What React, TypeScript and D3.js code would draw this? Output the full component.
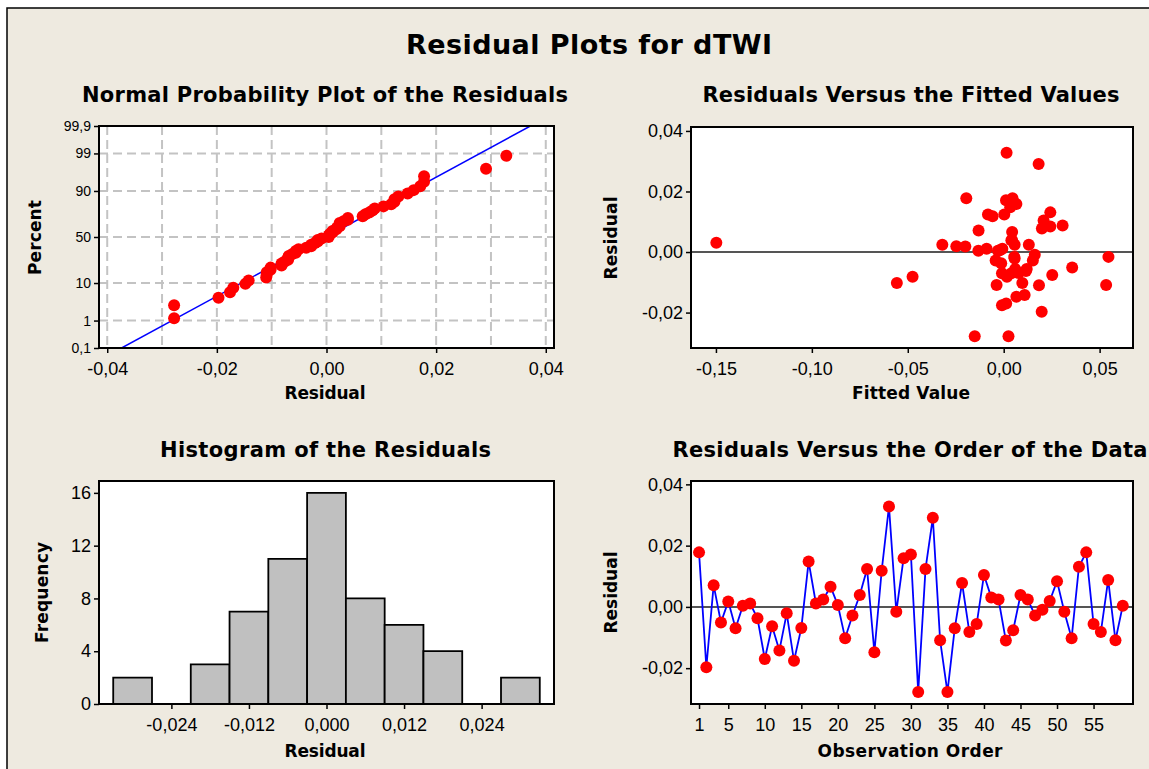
import React, { useEffect, useRef } from "react";
import * as d3 from "d3";

const residuals = [
  0.0178, -0.0197, 0.0071, -0.0051, 0.0018, -0.007, 0.0004, 0.0011, -0.0037, -0.017,
  -0.0063, -0.0142, -0.0021, -0.0176, -0.0069, 0.0148, 0.0011, 0.0024, 0.0066, 0.0006,
  -0.0102, -0.0028, 0.0039, 0.0124, -0.0148, 0.0118, 0.0328, -0.0016, 0.0159, 0.0171,
  -0.0278, 0.0124, 0.0291, -0.0109, -0.0278, -0.007, 0.0078, -0.0082, -0.0056, 0.0104,
  0.0031, 0.0024, -0.011, -0.0076, 0.0039, 0.0024, -0.0028, -0.0009, 0.0019, 0.0084,
  -0.0016, -0.0102, 0.0131, 0.0178, -0.0056, -0.0082, 0.0088, -0.0109, 0.0004,
];

// fitted values, same order
const fitted = [
  -0.0195, 0.0198, -0.0131, 0.0357, -0.02, -0.0009, -0.0132, -0.0089, -0.0013, 0.0013,
  0.0116, 0.0109, 0.0057, -0.0009, 0.0078, 0.0034, -0.0007, -0.032, 0.0044, -0.002,
  -0.0557, -0.0042, 0.0044, -0.0082, 0.0066, -0.0058, 0.0015, 0.0546, 0.0066, 0.0012,
  -0.0151, 0.0003, 0.0182, -0.0037, 0.0025, 0.004, 0.0199, -0.0475, 0.012, 0.0208,
  -0.1498, 0.0131, 0.0184, 0.0253, 0.004, 0.0057, 0.0152, 0.0162, -0.0247, 0.0243,
  0.0055, 0.0097, 0.0243, 0.0046, 0.006, 0.0017, 0.0307, 0.0534, -0.003,
];

// histogram
const binCenters = [-0.03, -0.024, -0.018, -0.012, -0.006, 0, 0.006, 0.012, 0.018, 0.024, 0.03];
const binCounts = [2, 0, 3, 7, 11, 16, 8, 6, 4, 0, 2];
const binWidth = 0.006;

// tick values
const percentTicks = [0.1, 1, 10, 50, 90, 99, 99.9];
const percentGrid = [1, 10, 50, 90, 99];
const normalXTicks = [-0.04, -0.02, 0, 0.02, 0.04];
const normalXGrid = [-0.04, -0.03, -0.02, -0.01, 0, 0.01, 0.02, 0.03, 0.04];
const fittedXTicks = [-0.15, -0.1, -0.05, 0, 0.05];
const residYTicks = [-0.02, 0, 0.02, 0.04];
const histXTicks = [-0.024, -0.012, 0, 0.012, 0.024];
const histYTicks = [0, 4, 8, 12, 16];
const orderXTicks = [1, 5, 10, 15, 20, 25, 30, 35, 40, 45, 50, 55];

const W = 1149;
const H = 769;
const BG = "#EEEAE0";
const FONT = "'Liberation Sans', Arial, Helvetica, sans-serif";
const TITLE_FONT = "'DejaVu Sans', Verdana, sans-serif";

const locale = d3.formatLocale({
  decimal: ",",
  thousands: ".",
  grouping: [3],
  currency: ["", ""],
  minus: "-",
});

// inverse of the standard normal cdf (Acklam)
function probit(p: number): number {
  const a = [-39.69683028665376, 220.9460984245205, -275.9285104469687, 138.357751867269, -30.66479806614716, 2.506628277459239];
  const b = [-54.47609879822406, 161.5858368580409, -155.6989798598866, 66.80131188771972, -13.28068155288572];
  const c = [-0.007784894002430293, -0.3223964580411365, -2.400758277161838, -2.549732539343734, 4.374664141464968, 2.938163982698783];
  const d = [0.007784695709041462, 0.3224671290700398, 2.445134137142996, 3.754408661907416];
  const pl = 0.02425;
  if (p < pl) {
    const q = Math.sqrt(-2 * Math.log(p));
    return (((((c[0] * q + c[1]) * q + c[2]) * q + c[3]) * q + c[4]) * q + c[5]) / ((((d[0] * q + d[1]) * q + d[2]) * q + d[3]) * q + 1);
  }
  if (p <= 1 - pl) {
    const q = p - 0.5;
    const r = q * q;
    return ((((((a[0] * r + a[1]) * r + a[2]) * r + a[3]) * r + a[4]) * r + a[5]) * q) / (((((b[0] * r + b[1]) * r + b[2]) * r + b[3]) * r + b[4]) * r + 1);
  }
  const q = Math.sqrt(-2 * Math.log(1 - p));
  return -(((((c[0] * q + c[1]) * q + c[2]) * q + c[3]) * q + c[4]) * q + c[5]) / ((((d[0] * q + d[1]) * q + d[2]) * q + d[3]) * q + 1);
}

type Box = { x0: number; x1: number; y0: number; y1: number };

const App = () => {
  const svgRef = useRef<SVGSVGElement>(null);

  useEffect(() => {
    const svg = d3.select(svgRef.current);
    svg.selectAll("*").remove();

    // page background + frame
    svg.append("rect").attr("x", 0).attr("y", 0).attr("width", W).attr("height", H).attr("fill", "#fff");
    svg
      .append("rect")
      .attr("x", 7)
      .attr("y", 8)
      .attr("width", W + 20)
      .attr("height", H + 20)
      .attr("fill", BG)
      .attr("stroke", "#000")
      .attr("stroke-width", 1.5);

    const text = (
      s: string,
      x: number,
      y: number,
      size: number,
      len: number,
      opts: { anchor?: string; rotate?: boolean } = {}
    ) => {
      const t = svg
        .append("text")
        .attr("x", opts.rotate ? 0 : x)
        .attr("y", opts.rotate ? 0 : y)
        .attr("text-anchor", opts.anchor || "start")
        .attr("font-family", TITLE_FONT)
        .attr("font-size", size)
        .attr("font-weight", "bold")
        .attr("fill", "#000")
        .attr("textLength", len)
        .attr("lengthAdjust", "spacing")
        .text(s);
      if (opts.rotate) t.attr("transform", `translate(${x},${y}) rotate(-90)`);
      return t;
    };

    // titles
    text("Residual Plots for dTWI", 406, 53.5, 27, 366);
    text("Normal Probability Plot of the Residuals", 82, 101.5, 21, 486);
    text("Residuals Versus the Fitted Values", 702.5, 101.5, 21, 417);
    text("Histogram of the Residuals", 160, 457, 21, 331);
    text("Residuals Versus the Order of the Data", 672.5, 457, 21, 475);

    // axis titles
    text("Residual", 325, 399, 17, 81, { anchor: "middle" });
    text("Fitted Value", 911, 399, 17, 118, { anchor: "middle" });
    text("Residual", 325, 756.5, 17, 81, { anchor: "middle" });
    text("Observation Order", 910, 756.5, 17, 185, { anchor: "middle" });
    text("Percent", 40.5, 237.5, 17, 75, { anchor: "middle", rotate: true });
    text("Residual", 617, 238, 17, 83, { anchor: "middle", rotate: true });
    text("Frequency", 48, 592.5, 17, 101, { anchor: "middle", rotate: true });
    text("Residual", 617, 592.5, 17, 82, { anchor: "middle", rotate: true });

    const plotBg = (b: Box) =>
      svg.append("rect").attr("x", b.x0).attr("y", b.y0).attr("width", b.x1 - b.x0).attr("height", b.y1 - b.y0).attr("fill", "#fff");
    const plotFrame = (b: Box) =>
      svg
        .append("rect")
        .attr("x", b.x0)
        .attr("y", b.y0)
        .attr("width", b.x1 - b.x0)
        .attr("height", b.y1 - b.y0)
        .attr("fill", "none")
        .attr("stroke", "#000")
        .attr("stroke-width", 2);

    const styleAxis = (g: any, size: number) => {
      g.attr("font-family", FONT).attr("font-size", size);
      g.select(".domain").remove();
      g.selectAll(".tick line").attr("stroke", "#000").attr("stroke-width", 1.5);
      g.selectAll(".tick text").attr("fill", "#000");
    };

    const clip = (id: string, b: Box) =>
      svg
        .append("clipPath")
        .attr("id", id)
        .append("rect")
        .attr("x", b.x0)
        .attr("y", b.y0)
        .attr("width", b.x1 - b.x0)
        .attr("height", b.y1 - b.y0);

    const dot = (g: any, pts: [number, number][]) =>
      g
        .selectAll("circle.pt")
        .data(pts)
        .enter()
        .append("circle")
        .attr("class", "pt")
        .attr("cx", (d: [number, number]) => d[0])
        .attr("cy", (d: [number, number]) => d[1])
        .attr("r", 6)
        .attr("fill", "#FF0000");

    // ---------- normal probability plot ----------
    const b1: Box = { x0: 99, x1: 554, y0: 126, y1: 348 };
    const x1 = d3.scaleLinear().domain([-0.0415, 0.0415]).range([b1.x0, b1.x1]);
    const zMax = probit(0.999);
    const y1 = d3.scaleLinear().domain([-zMax, zMax]).range([b1.y1, b1.y0]);
    plotBg(b1);
    clip("clip1", b1);
    const grid1 = svg.append("g").attr("stroke", "#C3C3C3").attr("stroke-width", 2).attr("stroke-dasharray", "9,5");
    normalXGrid.forEach((v) =>
      grid1.append("line").attr("x1", x1(v)).attr("x2", x1(v)).attr("y1", b1.y0).attr("y2", b1.y1)
    );
    percentGrid.forEach((p) =>
      grid1
        .append("line")
        .attr("x1", b1.x0)
        .attr("x2", b1.x1)
        .attr("y1", y1(probit(p / 100)))
        .attr("y2", y1(probit(p / 100)))
    );
    const g1 = svg.append("g").attr("clip-path", "url(#clip1)");
    const mean = d3.mean(residuals) as number;
    const sd = d3.deviation(residuals) as number;
    g1.append("line")
      .attr("x1", x1(mean - sd * zMax))
      .attr("y1", y1(-zMax))
      .attr("x2", x1(mean + sd * zMax))
      .attr("y2", y1(zMax))
      .attr("stroke", "#0000FF")
      .attr("stroke-width", 1.5);
    const sorted = residuals.slice().sort(d3.ascending);
    const n = sorted.length;
    dot(
      svg.append("g"),
      sorted.map((v, i) => [x1(v), y1(probit((i + 1 - 0.3) / (n + 0.4)))] as [number, number])
    );
    plotFrame(b1);
    const ax1 = svg
      .append("g")
      .attr("transform", `translate(0,${b1.y1})`)
      .call(d3.axisBottom(x1).tickValues(normalXTicks).tickSize(5).tickSizeOuter(0).tickPadding(9).tickFormat(locale.format(".2f") as any));
    styleAxis(ax1, 18);
    const fmtPct = locale.format("~g");
    const ay1 = svg
      .append("g")
      .attr("transform", `translate(${b1.x0},0)`)
      .call(
        d3
          .axisLeft(y1)
          .tickValues(percentTicks.map((p) => probit(p / 100)))
          .tickSize(5)
          .tickSizeOuter(0)
          .tickPadding(3)
          .tickFormat((_d: any, i: number) => fmtPct(percentTicks[i]))
      );
    styleAxis(ay1, 14);

    // ---------- residuals vs fitted ----------
    const b2: Box = { x0: 691, x1: 1133, y0: 127, y1: 348 };
    const x2 = d3.scaleLinear().domain([-0.163, 0.0674]).range([b2.x0, b2.x1]);
    const y2 = d3.scaleLinear().domain([-0.0317, 0.0413]).range([b2.y1, b2.y0]);
    plotBg(b2);
    svg
      .append("line")
      .attr("x1", b2.x0)
      .attr("x2", b2.x1)
      .attr("y1", y2(0))
      .attr("y2", y2(0))
      .attr("stroke", "#555")
      .attr("stroke-width", 2);
    dot(svg.append("g"), fitted.map((f, i) => [x2(f), y2(residuals[i])] as [number, number]));
    plotFrame(b2);
    const ax2 = svg
      .append("g")
      .attr("transform", `translate(0,${b2.y1})`)
      .call(d3.axisBottom(x2).tickValues(fittedXTicks).tickSize(5).tickSizeOuter(0).tickPadding(9).tickFormat(locale.format(".2f") as any));
    styleAxis(ax2, 18);
    const ay2 = svg
      .append("g")
      .attr("transform", `translate(${b2.x0},0)`)
      .call(d3.axisLeft(y2).tickValues(residYTicks).tickSize(5).tickSizeOuter(0).tickPadding(3).tickFormat(locale.format(".2f") as any));
    styleAxis(ay2, 18);

    // ---------- histogram ----------
    const b3: Box = { x0: 99, x1: 554, y0: 481, y1: 704 };
    const x3 = d3.scaleLinear().domain([-0.0352, 0.0352]).range([b3.x0, b3.x1]);
    const y3 = d3.scaleLinear().domain([0, 16.9]).range([b3.y1, b3.y0]);
    plotBg(b3);
    svg
      .append("g")
      .selectAll("path")
      .data(binCenters)
      .enter()
      .append("path")
      .attr("d", (c, i) => {
        const l = x3(c - binWidth / 2);
        const r = x3(c + binWidth / 2);
        const t = y3(binCounts[i]);
        return `M${l},${y3(0)}V${t}H${r}V${y3(0)}Z`;
      })
      .attr("fill", "#C0C0C0")
      .attr("stroke", "#000")
      .attr("stroke-width", 1.8);
    plotFrame(b3);
    const ax3 = svg
      .append("g")
      .attr("transform", `translate(0,${b3.y1})`)
      .call(d3.axisBottom(x3).tickValues(histXTicks).tickSize(5).tickSizeOuter(0).tickPadding(9).tickFormat(locale.format(".3f") as any));
    styleAxis(ax3, 18);
    const ay3 = svg
      .append("g")
      .attr("transform", `translate(${b3.x0},0)`)
      .call(d3.axisLeft(y3).tickValues(histYTicks).tickSize(5).tickSizeOuter(0).tickPadding(3).tickFormat(d3.format("d") as any));
    styleAxis(ay3, 18);

    // ---------- residuals vs order ----------
    const b4: Box = { x0: 691, x1: 1133, y0: 481, y1: 704 };
    const x4 = d3.scaleLinear().domain([-0.1, 60.4]).range([b4.x0, b4.x1]);
    const y4 = d3.scaleLinear().domain([-0.0317, 0.0411]).range([b4.y1, b4.y0]);
    plotBg(b4);
    svg
      .append("line")
      .attr("x1", b4.x0)
      .attr("x2", b4.x1)
      .attr("y1", y4(0))
      .attr("y2", y4(0))
      .attr("stroke", "#555")
      .attr("stroke-width", 2);
    const line4 = d3
      .line<number>()
      .x((_d, i) => x4(i + 1))
      .y((d) => y4(d));
    svg
      .append("path")
      .attr("d", line4(residuals))
      .attr("fill", "none")
      .attr("stroke", "#0000FF")
      .attr("stroke-width", 1.8);
    dot(svg.append("g"), residuals.map((v, i) => [x4(i + 1), y4(v)] as [number, number]));
    plotFrame(b4);
    const ax4 = svg
      .append("g")
      .attr("transform", `translate(0,${b4.y1})`)
      .call(d3.axisBottom(x4).tickValues(orderXTicks).tickSize(5).tickSizeOuter(0).tickPadding(9).tickFormat(d3.format("d") as any));
    styleAxis(ax4, 18);
    const ay4 = svg
      .append("g")
      .attr("transform", `translate(${b4.x0},0)`)
      .call(d3.axisLeft(y4).tickValues(residYTicks).tickSize(5).tickSizeOuter(0).tickPadding(3).tickFormat(locale.format(".2f") as any));
    styleAxis(ay4, 18);
  }, []);

  return (
    <svg
      ref={svgRef}
      width={W}
      height={H}
      style={{ position: "absolute", left: 0, top: 0, display: "block" }}
    />
  );
};

export default App;
